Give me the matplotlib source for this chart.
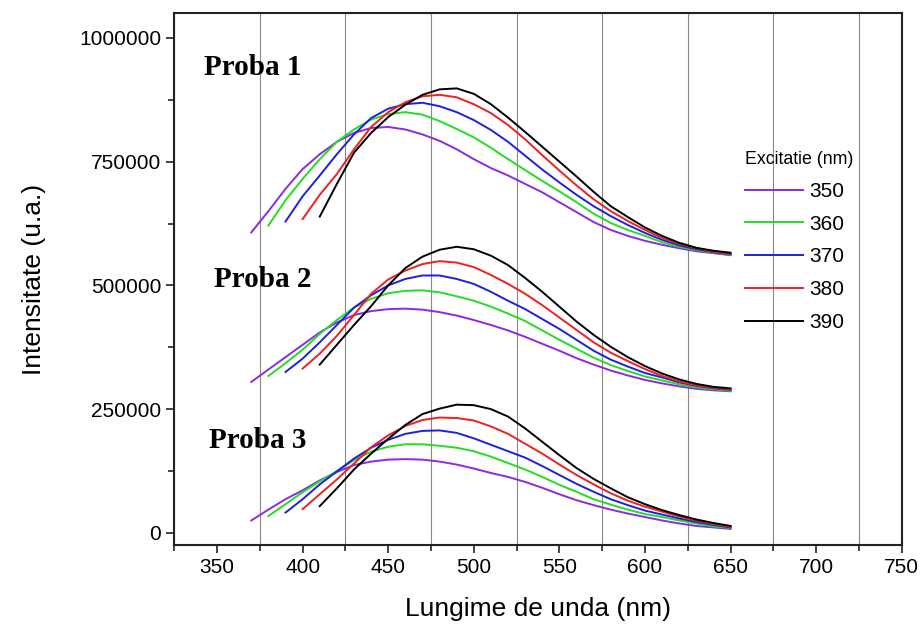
import matplotlib.pyplot as plt
from matplotlib.ticker import MultipleLocator, FuncFormatter

# emission wavelength grid (nm); each curve starts 20 nm above its excitation
wavelength = list(range(370, 651, 10))
excitation = ["350", "360", "370", "380", "390"]
colors = ["#8a2be2", "#22dd22", "#1f1fdd", "#ee2020", "#000000"]

# intensities in thousands (u.a.)
proba1 = {
    "350": [607, 650, 695, 735, 765, 790, 808, 818, 820, 815, 805, 792, 775, 755, 737,
            722, 705, 688, 668, 648, 628, 612, 600, 590, 582, 575, 569, 565, 561],
    "360": [621, 672, 715, 755, 790, 815, 835, 846, 850, 845, 832, 816, 799, 778,
            755, 733, 711, 690, 668, 645, 626, 612, 600, 587, 578, 571, 566, 562],
    "370": [629, 680, 722, 765, 805, 838, 857, 866, 869, 862, 850, 834, 814,
            790, 762, 734, 708, 683, 660, 640, 622, 606, 592, 581, 573, 567, 563],
    "380": [634, 683, 725, 775, 820, 850, 870, 882, 885, 880, 866, 848,
            824, 795, 763, 732, 702, 674, 650, 630, 612, 596, 584, 575, 568, 564],
    "390": [639, 705, 768, 808, 840, 865, 885, 896, 898, 887, 866,
            839, 810, 780, 750, 720, 689, 660, 638, 617, 600, 586, 576, 570, 566],
}
proba2 = {
    "350": [305, 330, 355, 380, 405, 425, 440, 448, 452, 453, 451, 446, 439, 430, 420,
            409, 396, 382, 368, 353, 340, 328, 318, 309, 302, 296, 291, 288, 286],
    "360": [317, 343, 370, 402, 430, 455, 473, 484, 489, 490, 486, 478, 469, 457,
            443, 428, 409, 390, 372, 354, 339, 327, 316, 308, 300, 294, 290, 287],
    "370": [325, 352, 385, 420, 455, 480, 500, 513, 520, 520, 513, 503, 487,
            469, 452, 432, 412, 390, 368, 350, 336, 323, 314, 304, 297, 292, 289],
    "380": [332, 362, 398, 440, 483, 512, 530, 543, 549, 546, 537, 521,
            503, 483, 460, 435, 410, 385, 364, 347, 331, 317, 306, 298, 293, 290],
    "390": [340, 380, 420, 458, 500, 535, 558, 572, 578, 573, 560,
            541, 515, 487, 457, 427, 400, 376, 355, 337, 322, 310, 301, 295, 292],
}
proba3 = {
    "350": [25, 47, 68, 86, 106, 123, 137, 144, 148, 149, 148, 144, 138, 130, 121,
            113, 103, 91, 78, 66, 56, 47, 39, 32, 25, 19, 14, 11, 8],
    "360": [34, 58, 82, 104, 125, 147, 164, 174, 179, 179, 176, 172, 165, 154,
            141, 128, 113, 97, 83, 68, 57, 47, 38, 32, 25, 19, 13, 10],
    "370": [41, 68, 98, 124, 150, 172, 188, 200, 206, 207, 202, 191, 178,
            165, 152, 135, 117, 99, 83, 68, 56, 45, 37, 29, 22, 16, 11],
    "380": [48, 78, 108, 140, 173, 197, 216, 228, 233, 232, 227, 215,
            200, 180, 160, 138, 117, 98, 80, 65, 53, 43, 33, 25, 18, 12],
    "390": [54, 90, 128, 160, 190, 218, 240, 251, 259, 258, 250,
            235, 211, 184, 157, 131, 109, 90, 72, 58, 46, 36, 27, 20, 14],
}
samples = ["Proba 1", "Proba 2", "Proba 3"]

plt.rcParams["font.family"] = ["Liberation Sans", "DejaVu Sans"]

fig = plt.figure(figsize=(9.22, 6.26), dpi=100)
ax = fig.add_axes([0.189, 0.129, 0.789, 0.85])

for data in (proba1, proba2, proba3):
    for exc, color in zip(excitation, colors):
        vals = data[exc]
        x = wavelength[-len(vals):]
        y = [v * 1000 for v in vals]
        ax.plot(x, y, color=color, lw=1.4,
                label=exc if data is proba1 else None)

label_pos = [(342.5, 941000), (348.4, 512000), (345.5, 187000)]
for name, (lx, ly) in zip(samples, label_pos):
    ax.text(lx, ly, name, fontsize=21, fontweight="bold",
            family="Liberation Serif", va="center", ha="left")

ax.set_xlim(325, 750)
ax.set_ylim(-25000, 1050000)
ax.xaxis.set_major_locator(MultipleLocator(50))
ax.xaxis.set_minor_locator(MultipleLocator(25))
ax.yaxis.set_major_locator(MultipleLocator(250000))
ax.yaxis.set_minor_locator(MultipleLocator(125000))
ax.yaxis.set_major_formatter(FuncFormatter(lambda v, p: f"{v:.0f}"))
ax.grid(True, which="minor", axis="x", color="#888888", lw=0.8)
ax.tick_params(which="major", direction="out", length=6, width=1.2,
               labelsize=15, color="#222222")
ax.tick_params(which="minor", direction="out", length=4, width=1.2,
               color="#222222")
for s in ax.spines.values():
    s.set_linewidth(1.5)
    s.set_color("#222222")

ax.set_xlabel("Lungime de unda (nm)", fontsize=19, labelpad=14)
ax.set_ylabel("Intensitate (u.a.)", fontsize=19, labelpad=24)

leg = ax.legend(title="Excitatie (nm)", loc="upper left",
                bbox_to_anchor=(0.761, 0.772), frameon=False, fontsize=15,
                title_fontsize=12.8, handlelength=2.8, handletextpad=0.3,
                labelspacing=0.66, alignment="left", borderpad=0.3)

fig.savefig("out.png", dpi=100)
